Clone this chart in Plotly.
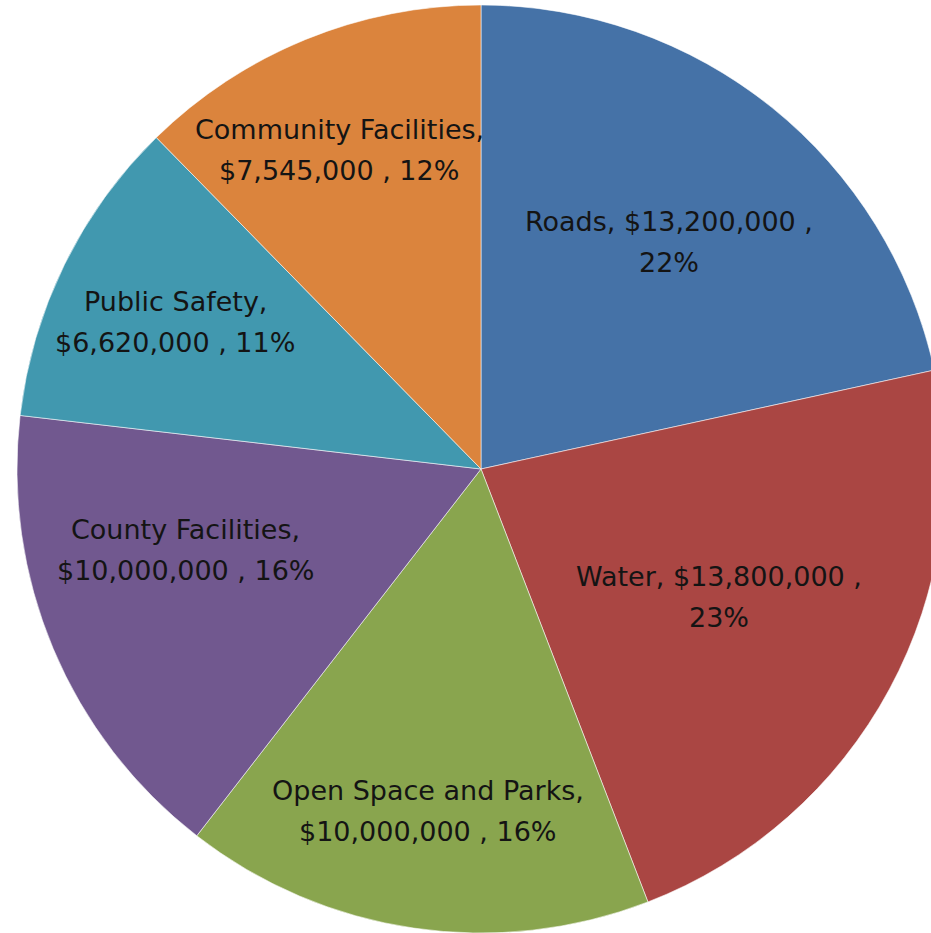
import plotly.graph_objects as go

# ---- data ----
categories = ["Roads", "Water", "Open Space and Parks", "County Facilities",
              "Public Safety", "Community Facilities"]
values = [13200000, 13800000, 10000000, 10000000, 6620000, 7545000]
percent_labels = ["22%", "23%", "16%", "16%", "11%", "12%"]

# ---- styles ----
colors = ["#4572A7", "#AA4643", "#89A54E", "#71588F", "#4198AF", "#DB843D"]

# label text lines (Excel-style "Category, Value , Percent" with wrapping)
label_lines = [
    (f"{categories[0]}, ${values[0]:,} ,", percent_labels[0]),
    (f"{categories[1]}, ${values[1]:,} ,", percent_labels[1]),
    (f"{categories[2]},", f"${values[2]:,} , {percent_labels[2]}"),
    (f"{categories[3]},", f"${values[3]:,} , {percent_labels[3]}"),
    (f"{categories[4]},", f"${values[4]:,} , {percent_labels[4]}"),
    (f"{categories[5]},", f"${values[5]:,} , {percent_labels[5]}"),
]
# label centre offsets from pie centre, in units of the pie radius (right/down positive)
label_offsets = [(0.405, -0.490), (0.513, 0.275), (-0.114, 0.738),
                 (-0.636, 0.175), (-0.659, -0.317), (-0.305, -0.687)]
line_half_gap = 0.0442  # half the distance between the two label lines, radius units

fig = go.Figure(go.Pie(
    labels=categories,
    values=values,
    textinfo="none",
    sort=False,
    direction="clockwise",
    rotation=0,
    domain=dict(x=[0, 1], y=[0, 1]),
    marker=dict(colors=colors, line=dict(color="rgba(255,255,255,0.55)", width=1)),
    hoverinfo="label+value+percent",
))

annotations = []
for (l1, l2), (dx, dy) in zip(label_lines, label_offsets):
    for txt, sgn in ((l1, -1), (l2, 1)):
        annotations.append(dict(
            x=0.5 + 0.5 * dx,
            y=0.5 - 0.5 * (dy + sgn * line_half_gap),
            xref="paper", yref="paper",
            text=txt, showarrow=False,
            xanchor="center", yanchor="middle",
            font=dict(family="DejaVu Sans", size=27, color="#141414"),
        ))

fig.update_layout(
    width=945, height=933,
    margin=dict(l=17, r=0, t=5, b=0),
    showlegend=False,
    paper_bgcolor="white",
    annotations=annotations,
)

fig.write_html(
    "out.html",
    config={"displayModeBar": False},
    post_script="document.body.style.margin='0px';"
                "document.body.style.overflow='hidden';"
                "document.documentElement.style.overflow='hidden';",
)
